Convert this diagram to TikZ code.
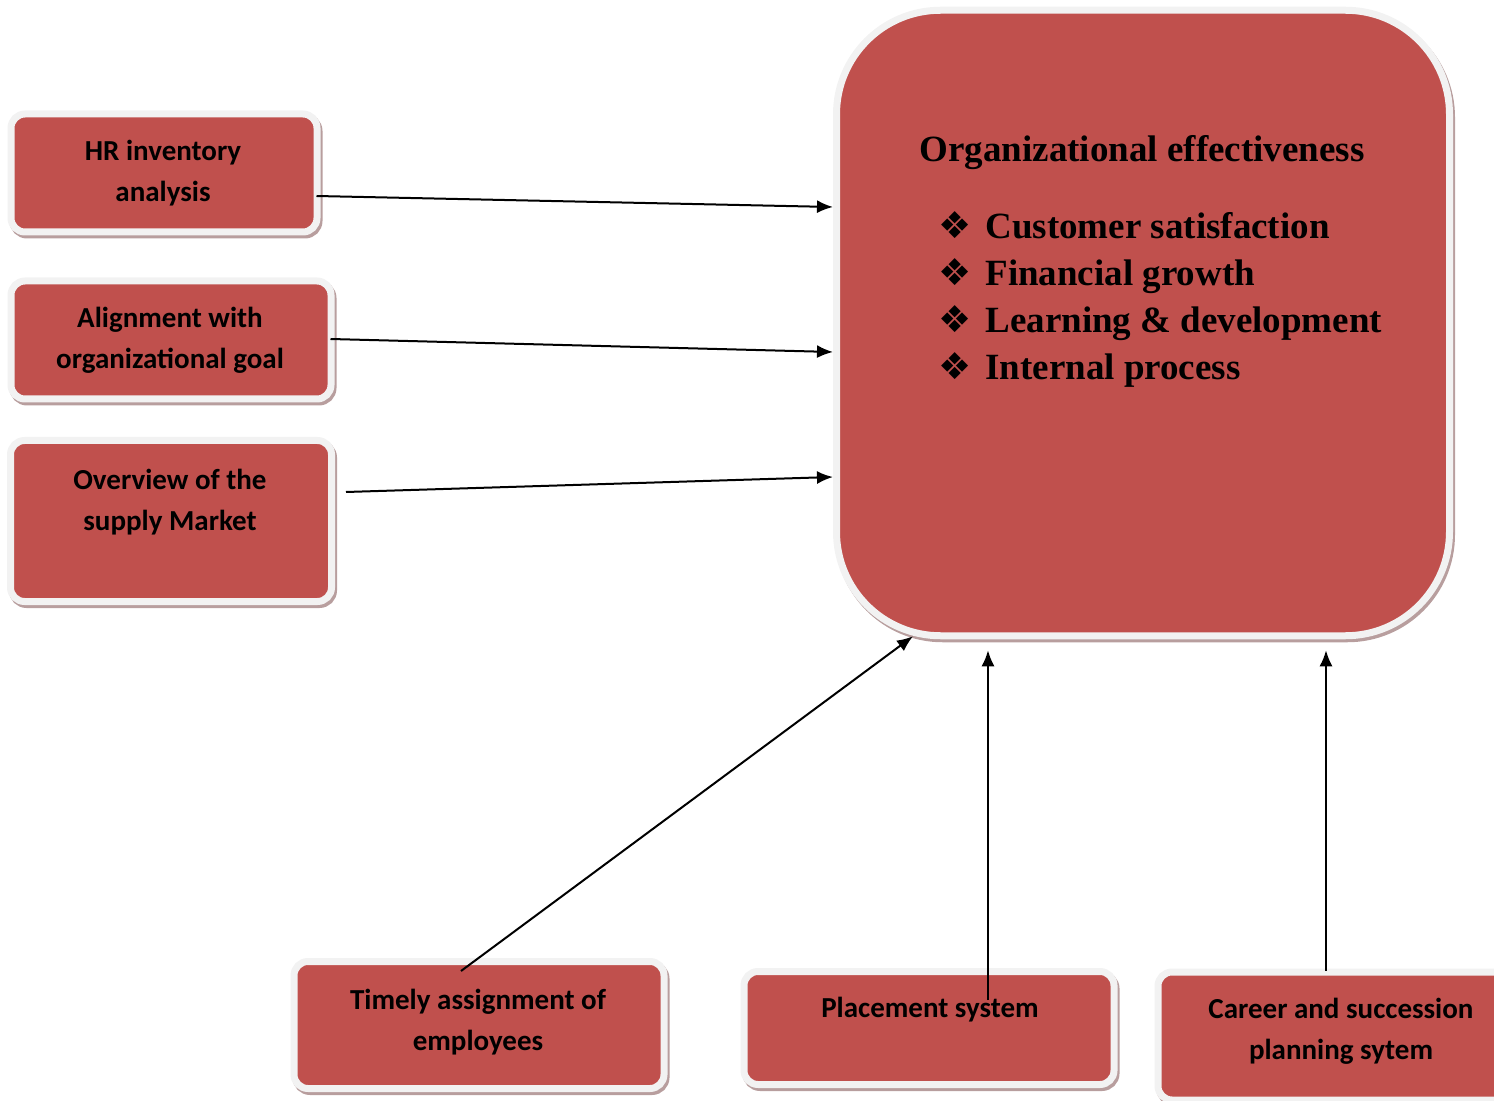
\documentclass[tikz,border=0pt]{standalone}
\usepackage{fontspec}
\setmainfont{Liberation Serif}
\setsansfont{Carlito}
\newfontfamily\symfont{DejaVu Sans}
\usetikzlibrary{calc,arrows.meta}
\definecolor{boxred}{HTML}{C0504D}
\definecolor{rim}{HTML}{F2F2F2}
\definecolor{shade}{HTML}{B89E9E}
\newcommand\bul{\makebox[23.5pt][l]{\symfont\mdseries ❖}}

\begin{document}
\begin{tikzpicture}[
    x=0.5pt, y=-0.5pt,
    box/.style={draw=rim, fill=boxred, line width=3.5pt, rounded corners=7pt,
      preaction={draw=shade, fill=shade, transform canvas={shift={(1pt,-1.5pt)}}}},
    lbl/.style={font=\sffamily\bfseries\fontsize{14.5}{20.5}\selectfont, align=center},
    big/.style={font=\bfseries\fontsize{18.5}{23.5}\selectfont},
    conn/.style={line width=1pt, -{Latex[length=8pt,width=6.5pt]}},
  ]
  \clip (0,0) rectangle (1494,1101);

  % left column
  \node[box, minimum width=153pt, minimum height=59pt] (hr) at (164,173) {};
  \node[lbl] (hrt) at (163,173) {HR inventory\\analysis};

  \node[box, minimum width=160pt, minimum height=59pt] (al) at (171,340) {};
  \node[lbl] (alt) at (170,340) {Alignment with\\organizational goal};

  \node[box, minimum width=160.5pt, minimum height=80.5pt] (ov) at (171,521) {};
  \node[lbl] (ovt) at (170,502) {Overview of the\\supply Market};

  % organizational effectiveness
  \node[box, rounded corners=52pt, minimum width=306.5pt, minimum height=312.75pt] (oe) at (1143,323) {};
  \node[big] (oet) at (1142,153) {Organizational effectiveness};
  \node[big, align=left, anchor=west, inner sep=0pt] (oel) at (938,299)
    {\bul Customer satisfaction\\ \bul Financial growth\\
     \bul Learning \& development\\ \bul Internal process};

  % bottom row
  \node[box, minimum width=185pt, minimum height=63.5pt] (tm) at (479,1025) {};
  \node[lbl] (tmt) at (478,1022) {Timely assignment of\\employees};

  \node[box, minimum width=185pt, minimum height=56.5pt] (pl) at (929,1028) {};
  \node[lbl] (plt) at (930,1010) {Placement system};

  \node[box, minimum width=183pt, minimum height=64pt] (cs) at (1341,1036) {};
  \node[lbl] (cst) at (1341,1031) {Career and succession\\planning sytem};

  % arrows
  \draw[conn] ($(hr.east)+(-4,23)$) -- ($(oe.west)+(0,-116)$);
  \draw[conn] ($(al.east)+(-4,-1)$) -- ($(oe.west)+(0,29)$);
  \draw[conn] ($(ov.east)+(11,-29)$) -- ($(oe.west)+(0,154)$);
  \draw[conn] ($(tm.north)+(-18,13)$) -- ($(oe.south)+(-230,-3)$);
  \draw[conn] ($(pl.north)+(59,32)$) -- ($(oe.south)+(-155,11)$);
  \draw[conn] ($(cs.north)+(-15,2)$) -- ($(oe.south)+(183,11)$);

\end{tikzpicture}
\end{document}
